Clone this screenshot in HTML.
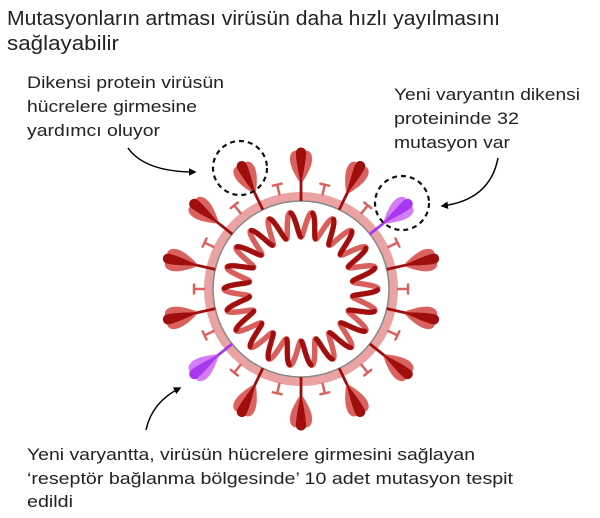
<!DOCTYPE html>
<html><head><meta charset="utf-8"><style>
html,body{margin:0;padding:0;background:#fff;width:600px;height:518px;overflow:hidden}
svg text{font-family:"Liberation Sans",sans-serif;fill:#222}
</style></head><body>
<svg id="s" width="600" height="518" viewBox="0 0 600 518" xmlns="http://www.w3.org/2000/svg">
<defs>
<marker id="ah" viewBox="0 0 10 10" refX="8" refY="5" markerWidth="5" markerHeight="5" orient="auto"><path d="M0,0 L10,5 L0,10 z" fill="#000"/></marker>
</defs>
<text x="7" y="25" font-size="20" textLength="493" lengthAdjust="spacingAndGlyphs">Mutasyonların artması virüsün daha hızlı yayılmasını</text>
<text x="7" y="50" font-size="20" textLength="112" lengthAdjust="spacingAndGlyphs">sağlayabilir</text>
<text x="27" y="88" font-size="17" textLength="197" lengthAdjust="spacingAndGlyphs">Dikensi protein virüsün</text>
<text x="27" y="112" font-size="17" textLength="170" lengthAdjust="spacingAndGlyphs">hücrelere girmesine</text>
<text x="27" y="136" font-size="17" textLength="133" lengthAdjust="spacingAndGlyphs">yardımcı oluyor</text>
<text x="394" y="100" font-size="17" textLength="186" lengthAdjust="spacingAndGlyphs">Yeni varyantın dikensi</text>
<text x="394" y="124" font-size="17" textLength="125" lengthAdjust="spacingAndGlyphs">proteininde 32</text>
<text x="394" y="148" font-size="17" textLength="116" lengthAdjust="spacingAndGlyphs">mutasyon var</text>
<text x="27" y="460" font-size="17" textLength="448" lengthAdjust="spacingAndGlyphs">Yeni varyantta, virüsün hücrelere girmesini sağlayan</text>
<text x="27" y="484" font-size="17" textLength="486" lengthAdjust="spacingAndGlyphs">‘reseptör bağlanma bölgesinde’ 10 adet mutasyon tespit</text>
<text x="27" y="507" font-size="17" textLength="46" lengthAdjust="spacingAndGlyphs">edildi</text>
<path d="M128,148 Q145,172 195,172" fill="none" stroke="#000" stroke-width="1.5" marker-end="url(#ah)"/>
<path d="M498,158 Q490,200 442,206" fill="none" stroke="#000" stroke-width="1.5" marker-end="url(#ah)"/>
<path d="M146,430 Q152,402 180,388" fill="none" stroke="#000" stroke-width="1.5" marker-end="url(#ah)"/>
<g id="v"></g>
<circle cx="240" cy="168" r="27" fill="none" stroke="#111" stroke-width="2.2" stroke-dasharray="5,4"/>
<circle cx="402" cy="203" r="27" fill="none" stroke="#111" stroke-width="2.2" stroke-dasharray="5,4"/>
</svg>
<script>
(function(){
var cx=301,cy=289,g=document.getElementById('v'),h='';
var N=22,M=1320;
function P(i){var t=i/M*2*Math.PI;var r=64.5+12.5*Math.cos(N*t);return [cx+r*Math.cos(t),cy+r*Math.sin(t)];}
var pts=[];for(var i=0;i<=M;i++){var p=P(i);pts.push(p[0].toFixed(1)+','+p[1].toFixed(1));}
h+='<polyline points="'+pts.join(' ')+'" fill="none" stroke="#d95f5c" stroke-width="5.5" stroke-linejoin="round"/>';
var seg=[];
for(var i=0;i<=M;i++){var t=i/M*2*Math.PI;var s=Math.sin(N*t);
 if(s>0.15){var p=P(i);seg.push(p[0].toFixed(1)+','+p[1].toFixed(1));}
 else if(seg.length){h+='<polyline points="'+seg.join(' ')+'" fill="none" stroke="#a10e0e" stroke-width="5" stroke-linecap="round"/>';seg=[];}
}
if(seg.length)h+='<polyline points="'+seg.join(' ')+'" fill="none" stroke="#a10e0e" stroke-width="5" stroke-linecap="round"/>';
h+='<circle cx="'+cx+'" cy="'+cy+'" r="92.5" fill="none" stroke="#e8a3a2" stroke-width="9"/>';
h+='<circle cx="'+cx+'" cy="'+cy+'" r="88" fill="none" stroke="#888" stroke-width="1.5"/>';
for(var k=0;k<14;k++){
 var deg=-90+k*360/14;
 var sd=deg+180/14;
 h+='<g transform="translate('+cx+','+cy+') rotate('+(sd+90)+')"><line x1="0" y1="-96" x2="0" y2="-107" stroke="#d9625f" stroke-width="2.5"/><line x1="-4.5" y1="-107" x2="4.5" y2="-107" stroke="#d9625f" stroke-width="2.5" stroke-linecap="round"/></g>';
 var purple=(k==2||k==9);
 var dk=purple?'#a838f0':'#a00d0d', lt=purple?'#d37cf5':'#d9625f';
 h+='<g transform="translate('+cx+','+cy+') rotate('+(deg+90)+')">'+
 '<line x1="0" y1="-88" x2="0" y2="-116" stroke="'+dk+'" stroke-width="2.8"/>'+
 '<path d="M-1,-106 C-6,-114 -12,-124 -11,-132 C-10,-139 -4,-140 -1,-136 Z" fill="'+lt+'"/>'+
 '<path d="M1,-106 C6,-114 12,-124 11,-132 C10,-139 4,-140 1,-136 Z" fill="'+lt+'"/>'+
 '<path d="M0,-104 C-2,-114 -5.5,-131 -5,-137 C-4.5,-143 4.5,-143 5,-137 C5.5,-131 2,-114 0,-104 Z" fill="'+dk+'"/>'+
 '</g>';
}
g.innerHTML=h;
})();
</script>
</body></html>
